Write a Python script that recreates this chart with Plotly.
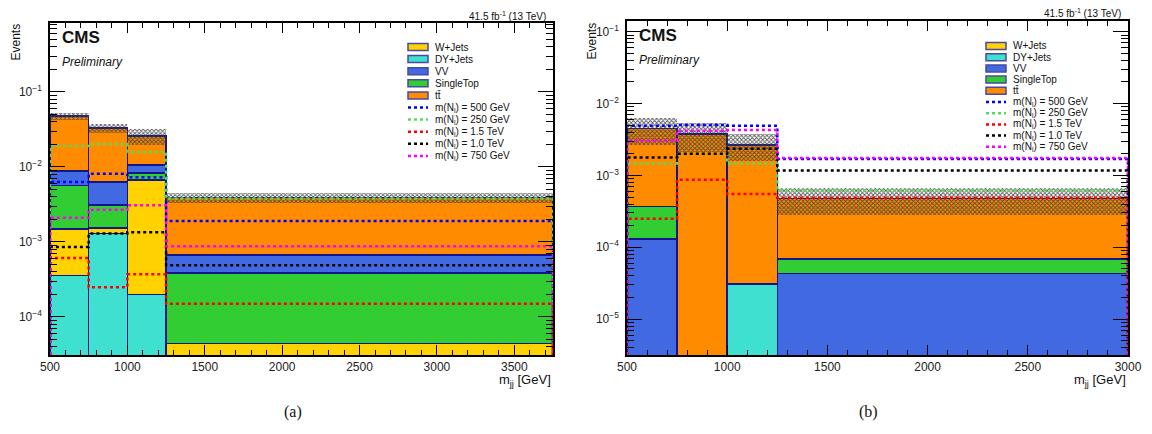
import plotly.graph_objects as go

# ---------------- data ----------------
EDGES_A = [500, 750, 1000, 1250, 3750]
EDGES_B = [500, 750, 1000, 1250, 3000]

BKG_NAMES = ["W+Jets", "DY+Jets", "VV", "SingleTop", "tt\u0304"]
SIG_NAMES = ["m(N<sub>l</sub>) = 500 GeV", "m(N<sub>l</sub>) = 250 GeV",
             "m(N<sub>l</sub>) = 1.5 TeV", "m(N<sub>l</sub>) = 1.0 TeV",
             "m(N<sub>l</sub>) = 750 GeV"]

Y_TICK_EXP = [-5, -4, -3, -2, -1]
Y_TICK_TEXT = ["10<sup>\u22125</sup>", "10<sup>\u22124</sup>", "10<sup>\u22123</sup>",
               "10<sup>\u22122</sup>", "10<sup>\u22121</sup>"]

# panel (a) backgrounds
WJETS_A = [1.12e-3, 0.24e-3, 6.5e-3, 4.4e-5]
DYJETS_A = [3.6e-4, 1.3e-3, 2.0e-4, 0.0]
VV_A = [3.15e-3, 3.2e-3, 2.4e-3, 2.85e-4]
SINGLETOP_A = [4.2e-3, 1.56e-3, 1.6e-3, 3.4e-4]
TTBAR_A = [3.9e-2, 2.67e-2, 1.53e-2, 3.25e-3]
UNC_A = [5.0e-3, 4.5e-3, 6.5e-3, 6.5e-4]

# panel (a) signals
S500_A = [6.3e-3, 8.1e-3, 7.3e-3, 1.9e-3]
S250_A = [1.9e-2, 2.03e-2, 1.58e-2, 3.8e-3]
S1500_A = [6.1e-4, 2.5e-4, 3.7e-4, 1.5e-4]
S1000_A = [8.6e-4, 1.3e-3, 1.35e-3, 4.9e-4]
S750_A = [2.1e-3, 2.7e-3, 3.1e-3, 8.8e-4]

# panel (b) backgrounds
WJETS_B = [0.0, 0.0, 0.0, 0.0]
DYJETS_B = [0.0, 0.0, 3.1e-5, 0.0]
VV_B = [1.3e-4, 0.0, 0.0, 4.3e-5]
SINGLETOP_B = [2.4e-4, 0.0, 0.0, 2.6e-5]
TTBAR_B = [4.1e-3, 3.8e-3, 2.64e-3, 4.1e-4]
UNC_B = [1.8e-3, 1.65e-3, 1.1e-3, 2.0e-4]

# panel (b) signals
S500_B = [4.9e-3, 5.05e-3, 4.9e-3, 1.7e-3]
S250_B = [1.46e-3, 2.0e-3, 1.46e-3, 6.2e-4]
S1500_B = [2.5e-4, 8.7e-4, 5.5e-4, 4.9e-4]
S1000_B = [1.77e-3, 2.0e-3, 2.36e-3, 1.17e-3]
S750_B = [3.05e-3, 4.2e-3, 4.3e-3, 1.75e-3]

# ---------------- style ----------------
W, H = 1152, 434
FONT = "Liberation Sans, Arial, Helvetica, sans-serif"
BKG_COLORS = {"W+Jets": "#ffd200", "DY+Jets": "#40e0d0", "VV": "#4169e1",
              "SingleTop": "#32cd32", "tt\u0304": "#ff8c00"}
SIG_COLORS = ["#0000ff", "#55dd55", "#ff0000", "#000000", "#ff00ff"]
OUTLINE = "#14148c"

YR_A = [-4.507, -0.08]
YR_B = [-5.5, -0.85]


def X(p):
    return p / W


def Y(p):
    return 1 - p / H


fig = go.Figure()


def add_panel(edges, bkg, order, unc, sigs, xa, ya, yfloor):
    centers = [(edges[i] + edges[i + 1]) / 2 for i in range(len(edges) - 1)]
    widths = [edges[i + 1] - edges[i] for i in range(len(edges) - 1)]
    total = [0.0] * len(centers)
    for name in order:
        vals = bkg[name]
        total = [t + v for t, v in zip(total, vals)]
        fig.add_trace(go.Bar(
            x=centers, y=[v if v > 0 else None for v in vals], width=widths,
            marker=dict(color=BKG_COLORS[name], line=dict(color=OUTLINE, width=1.5)),
            name=name, showlegend=False, xaxis=xa, yaxis=ya, hoverinfo="skip"))
    fig.add_trace(go.Bar(
        x=centers, y=[2 * u for u in unc], base=[t - u for t, u in zip(total, unc)],
        width=widths,
        marker=dict(color="rgba(0,0,0,0)", line=dict(width=0),
                    pattern=dict(shape="x", fgcolor="rgba(60,60,60,0.85)",
                                 bgcolor="rgba(255,255,255,0)", size=3, solidity=0.5,
                                 fillmode="replace")),
        showlegend=False, xaxis=xa, yaxis=ya, hoverinfo="skip"))
    for vals, col, name in zip(sigs, SIG_COLORS, SIG_NAMES):
        xs = [edges[0]] + list(edges) + [edges[-1]]
        ys = [yfloor] + list(vals) + [vals[-1], yfloor]
        fig.add_trace(go.Scatter(
            x=xs, y=ys, mode="lines", line=dict(color=col, width=2.5, dash="dot", shape="hv"),
            name=name, showlegend=False, xaxis=xa, yaxis=ya, hoverinfo="skip"))


add_panel(EDGES_A,
          {"W+Jets": WJETS_A, "DY+Jets": DYJETS_A, "VV": VV_A,
           "SingleTop": SINGLETOP_A, "tt\u0304": TTBAR_A},
          ["DY+Jets", "W+Jets", "SingleTop", "VV", "tt\u0304"],
          UNC_A, [S500_A, S250_A, S1500_A, S1000_A, S750_A], "x", "y", 10 ** YR_A[0])
add_panel(EDGES_B,
          {"W+Jets": WJETS_B, "DY+Jets": DYJETS_B, "VV": VV_B,
           "SingleTop": SINGLETOP_B, "tt\u0304": TTBAR_B},
          ["VV", "SingleTop", "DY+Jets", "W+Jets", "tt\u0304"],
          UNC_B, [S500_B, S250_B, S1500_B, S1000_B, S750_B], "x2", "y2", 10 ** YR_B[0])

MINOR_LOG = [k * 10.0 ** d for d in range(-7, 1) for k in range(2, 10)]
MAJOR_LOG = [10.0 ** e for e in Y_TICK_EXP]

xcommon = dict(showline=True, linecolor="black", linewidth=1.5, mirror="allticks",
               ticks="inside", ticklen=10, tickwidth=1.2, tickcolor="black",
               tickmode="linear", dtick=500, tick0=500, showgrid=False, zeroline=False,
               automargin=False, layer="above traces",
               tickfont=dict(family=FONT, size=12, color="#222"),
               minor=dict(ticks="inside", ticklen=5, tickwidth=1.2, tickmode="linear",
                          dtick=100, tick0=500, tickcolor="black", showgrid=False))
ycommon = dict(type="log", showline=True, linecolor="black", linewidth=1.5, mirror="allticks",
               ticks="inside", ticklen=15, tickwidth=1.2, tickcolor="black",
               tickmode="array", tickvals=MAJOR_LOG, ticktext=Y_TICK_TEXT,
               showgrid=False, zeroline=False, automargin=False, layer="above traces",
               tickfont=dict(family=FONT, size=12, color="#222"), ticklabelstandoff=4,
               minor=dict(ticks="inside", ticklen=7, tickwidth=1.2, tickmode="array",
                          tickvals=MINOR_LOG, tickcolor="black", showgrid=False))

fig.update_layout(
    width=W, height=H, margin=dict(l=0, r=0, t=0, b=0, autoexpand=False),
    paper_bgcolor="white", plot_bgcolor="white", barmode="stack", showlegend=False,
    font=dict(family=FONT, color="#222"),
    xaxis=dict(domain=[X(50), X(553)], range=[500, 3750], anchor="y", **xcommon),
    yaxis=dict(domain=[Y(355), Y(23)], range=YR_A, anchor="x", **ycommon),
    xaxis2=dict(domain=[X(627), X(1128)], range=[500, 3000], anchor="y2", **xcommon),
    yaxis2=dict(domain=[Y(355), Y(21)], range=YR_B, anchor="x2", **ycommon),
)

ann = []
shapes = []


def text(x, y, s, size, xanchor="left", yanchor="middle", family=FONT, angle=0):
    ann.append(dict(x=X(x), y=Y(y), xref="paper", yref="paper", text=s, showarrow=False,
                    xanchor=xanchor, yanchor=yanchor, textangle=angle,
                    font=dict(family=family, size=size, color="#111")))


def panel_text(left, right, top, cms_y, lumi_y, legx, legy0, legdy, caption):
    text(left + 10, cms_y, "<b>CMS</b>", 17)
    text(left + 10, cms_y + 25, "<i>Preliminary</i>", 12)
    text(right - 5, lumi_y, "41.5 fb<sup>-1</sup> (13 TeV)", 10, xanchor="right")
    text(left - 35, top, "Events", 12, xanchor="center", yanchor="top", angle=-90)
    text(right, 380, "m<sub>jj</sub> [GeV]", 13, xanchor="right")
    text(caption[0], 412, caption[1], 16,
         xanchor="center", family="Liberation Serif, Times New Roman, serif")
    for i, name in enumerate(BKG_NAMES):
        yc = legy0 + legdy * i
        shapes.append(dict(type="rect", xref="paper", yref="paper",
                           x0=X(legx), x1=X(legx + 20), y0=Y(yc + 3.5), y1=Y(yc - 3.5),
                           fillcolor=BKG_COLORS[name], line=dict(color="#4a4aa0", width=1.5)))
        text(legx + 25, yc, name, 10)
    for j, (name, col) in enumerate(zip(SIG_NAMES, SIG_COLORS)):
        yc = legy0 + legdy * (len(BKG_NAMES) + j)
        shapes.append(dict(type="line", xref="paper", yref="paper",
                           x0=X(legx), x1=X(legx + 20), y0=Y(yc), y1=Y(yc),
                           line=dict(color=col, width=2.5, dash="dot")))
        text(legx + 25, yc, name, 10)


panel_text(50, 553, 22, 37, 16, 408, 47, 12.1, (293, "(a)"))
panel_text(627, 1128, 21, 35, 13, 986, 46, 11.2, (868, "(b)"))

fig.update_layout(annotations=ann, shapes=shapes)
fig.write_html("out.html")
